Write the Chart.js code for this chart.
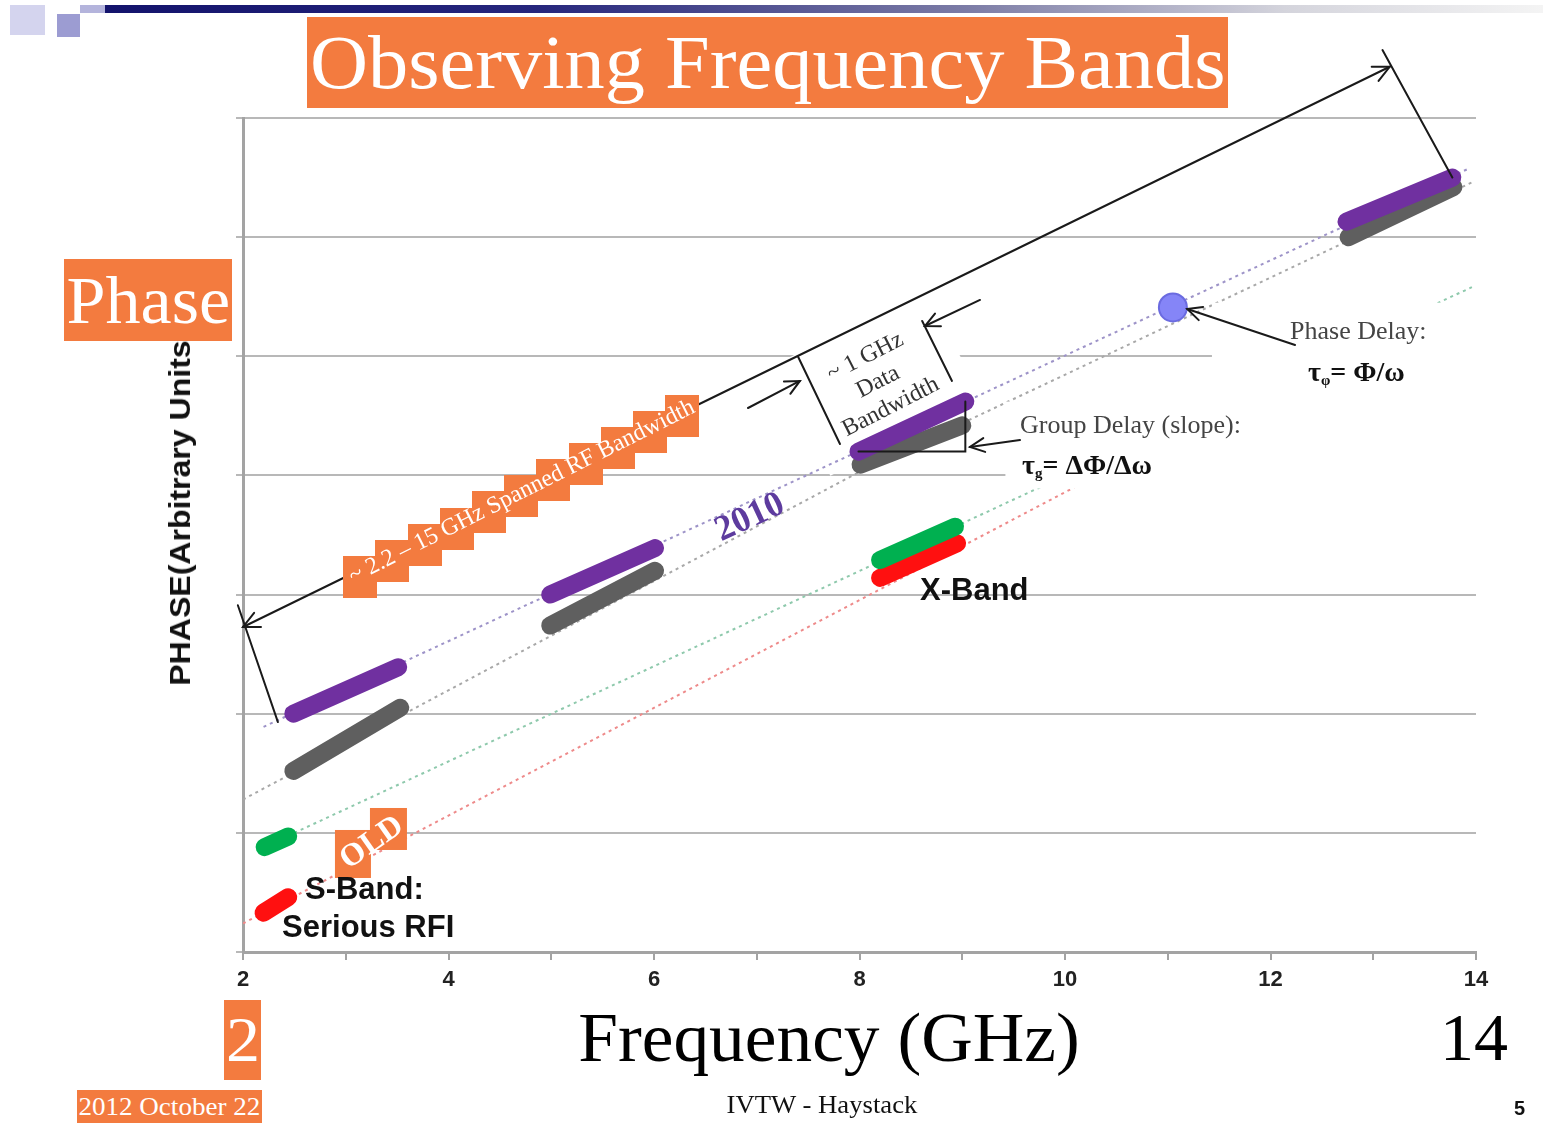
<!DOCTYPE html>
<html>
<head>
<meta charset="utf-8">
<script src="https://cdn.jsdelivr.net/npm/chart.js@4.4.1/dist/chart.umd.min.js"></script>
<style>
body { margin: 0; background: #fff; }
#slide { position: relative; width: 1543px; height: 1127px; overflow: hidden; background: #fff; font-family: 'Liberation Serif', serif; }
#chart { position: absolute; left: 0; top: 0; }
.box { position: absolute; background: #f37b3f; color: #fff; display: flex; align-items: center; justify-content: center; white-space: nowrap; overflow: hidden; }
.txt { position: absolute; white-space: nowrap; line-height: 1; }
.fit { display: inline-block; transform-origin: center center; }
</style>
</head>
<body>
<div id="slide">
  <canvas id="chart" width="1543" height="1127"></canvas>

  <!-- template decoration -->
  <div style="position:absolute;left:10px;top:5px;width:35px;height:30px;background:#d4d4ee"></div>
  <div style="position:absolute;left:57px;top:14px;width:23px;height:23px;background:#9c9cd2"></div>
  <div style="position:absolute;left:80px;top:5px;width:25px;height:8px;background:#b4b4dc"></div>
  <div style="position:absolute;left:105px;top:5px;width:1438px;height:8px;background:linear-gradient(to right,#13136c 0%,#26267c 30%,#7c7ca6 60%,#d4d4dc 82%,#f4f4f4 100%)"></div>

  <div class="box" style="left:307px;top:17px;width:921px;height:91px;font-size:76px"><span class="fit" data-w="915">Observing Frequency Bands</span></div>
  <div class="box" style="left:64px;top:259px;width:168px;height:82px;font-size:68px"><span class="fit" data-w="164">Phase</span></div>

  <div class="txt" style="left:180px;top:513px;font:bold 30px 'Liberation Sans',sans-serif;color:#111;transform:translate(-50%,-50%) rotate(-90deg)"><span class="fit" data-w="345">PHASE(Arbitrary Units</span></div>

  <div class="txt" style="left:829px;top:1003px;font-size:70px;color:#000;transform:translateX(-50%)"><span class="fit" data-w="502">Frequency (GHz)</span></div>
  <div class="box" style="left:224px;top:1000px;width:37px;height:80px;font-size:64px"><span class="fit" data-w="34">2</span></div>
  <div class="txt" style="left:1440px;top:1003px;font-size:68px;color:#000">14</div>

  <div class="box" style="left:77px;top:1090px;width:185px;height:33px;font-size:26px"><span class="fit" data-w="182">2012 October 22</span></div>
  <div class="txt" style="left:822px;top:1092px;font-size:26px;color:#111;transform:translateX(-50%)"><span class="fit" data-w="191">IVTW - Haystack</span></div>
  <div class="txt" style="left:1514px;top:1097px;font:bold 20px 'Liberation Sans',sans-serif;color:#111">5</div>
</div>

<script>
// Phase vs frequency (x in GHz, y in arbitrary phase units)
const xTicks = [2, 4, 6, 8, 10, 12, 14];

// 2010 system bands (purple) and their grey companions
const purpleBandX = [[2.49, 3.51], [4.99, 6.01], [7.99, 9.03], [12.74, 13.77]];
const purpleBandY = [[2.0, 2.39], [3.0, 3.39], [4.2, 4.62], [6.13, 6.5]];
const grayBandX = [[2.49, 3.53], [4.99, 6.01], [8.01, 9.0], [12.76, 13.78]];
const grayBandY = [[1.52, 2.05], [2.74, 3.2], [4.09, 4.42], [6.0, 6.42]];

// old S/X system
const greenBandX = [[2.21, 2.44], [8.2, 8.93]];
const greenBandY = [[0.88, 0.97], [3.29, 3.57]];
const redBandX = [[2.2, 2.44], [8.2, 8.95]];
const redBandY = [[0.33, 0.46], [3.14, 3.43]];

// dotted phase lines
const purpleTrendX = [2.2, 13.94];
const purpleTrendY = [1.89, 6.58];
const grayTrendX = [2.0, 8.0, 13.96];
const grayTrendY = [1.28, 4.03, 6.46];
const greenTrendX = [2.5, 13.96];
const greenTrendY = [1.0, 5.58];
const redTrendX = [2.0, 10.18];
const redTrendY = [0.24, 3.94];

// phase delay marker
const phasePointX = [11.05];
const phasePointY = [5.41];

const ORANGE = '#f37b3f';

function pairs(xs, ys) {
    return xs.map((v, i) => ({ x: v, y: ys[i] }));
}

function bandSets(xs, ys, color) {
    return xs.map((x, i) => ({
        data: pairs(x, ys[i]),
        borderColor: color,
        borderWidth: 18,
        borderCapStyle: 'round',
        pointRadius: 0,
        fill: false
    }));
}

function trendSet(xs, ys, color) {
    return {
        data: pairs(xs, ys),
        borderColor: color,
        borderWidth: 2,
        borderDash: [3, 4],
        pointRadius: 0,
        fill: false
    };
}

// small helpers for the annotation layer
function arrowHead(ctx, x1, y1, x2, y2, len) {
    const a = Math.atan2(y2 - y1, x2 - x1);
    ctx.beginPath();
    ctx.moveTo(x2 - len * Math.cos(a - 0.45), y2 - len * Math.sin(a - 0.45));
    ctx.lineTo(x2, y2);
    ctx.lineTo(x2 - len * Math.cos(a + 0.45), y2 - len * Math.sin(a + 0.45));
    ctx.stroke();
}

function line(ctx, p, q) {
    ctx.beginPath();
    ctx.moveTo(p[0], p[1]);
    ctx.lineTo(q[0], q[1]);
    ctx.stroke();
}

function tauText(ctx, x, y, sub, rest) {
    ctx.font = 'bold 28px "Liberation Serif"';
    ctx.fillText('τ', x, y);
    let w = ctx.measureText('τ').width;
    ctx.font = 'bold 15px "Liberation Serif"';
    ctx.fillText(sub, x + w, y + 7);
    w += ctx.measureText(sub).width;
    ctx.font = 'bold 28px "Liberation Serif"';
    ctx.fillText(rest, x + w, y);
}

// text on a slant with orange squares stepping along behind it
function stairText(ctx, text, cx, cy, deg, font, step, boxW, boxH) {
    const a = deg * Math.PI / 180;
    ctx.font = font;
    const total = ctx.measureText(text).width;
    ctx.fillStyle = ORANGE;
    for (let s = -total / 2 + boxW / 2 - 6; s <= total / 2 - boxW / 2 + 10; s += step) {
        const px = cx + s * Math.cos(a);
        const py = cy + s * Math.sin(a) + 4;
        ctx.fillRect(Math.round(px - boxW / 2), Math.round(py - boxH / 2), boxW, boxH);
    }
    ctx.save();
    ctx.translate(cx, cy);
    ctx.rotate(a);
    ctx.fillStyle = '#fff';
    ctx.textAlign = 'center';
    ctx.textBaseline = 'middle';
    ctx.fillText(text, 0, 0);
    ctx.restore();
}

function rotatedText(ctx, lines, cx, cy, deg, font, color, gap) {
    ctx.save();
    ctx.translate(cx, cy);
    ctx.rotate(deg * Math.PI / 180);
    ctx.font = font;
    ctx.fillStyle = color;
    ctx.textAlign = 'center';
    ctx.textBaseline = 'middle';
    lines.forEach((t, i) => ctx.fillText(t, 0, (i - (lines.length - 1) / 2) * gap));
    ctx.restore();
}

const slideNotes = {
    id: 'slideNotes',
    beforeDatasetsDraw(chart) {
        const { ctx, scales: { x, y } } = chart;
        const c = [x.getPixelForValue(8.18), y.getPixelForValue(4.784)];
        // white label patch breaks the grid line behind "~1 GHz"
        ctx.save();
        ctx.translate(c[0], c[1]);
        ctx.rotate(-27 * Math.PI / 180);
        ctx.fillStyle = '#fff';
        ctx.fillRect(-85, -62, 170, 124);
        ctx.restore();
    },
    afterDatasetsDraw(chart) {
        const { ctx, scales: { x, y } } = chart;
        const P = (vx, vy) => [x.getPixelForValue(vx), y.getPixelForValue(vy)];
        ctx.save();

        // white text boxes hide grid and dotted lines
        ctx.fillStyle = '#fff';
        let a = P(9.42, 4.62), b = P(11.85, 3.89);
        ctx.fillRect(a[0], a[1], b[0] - a[0], b[1] - a[1]);
        a = P(11.43, 5.45); b = P(14.35, 3.66);
        ctx.fillRect(a[0], a[1], b[0] - a[0], b[1] - a[1]);

        ctx.strokeStyle = '#1a1a1a';
        ctx.lineWidth = 2;
        ctx.lineCap = 'round';

        // spanned RF bandwidth arrow
        const s1 = P(2.0, 2.728), s2 = P(13.16, 7.43);
        line(ctx, s1, s2);
        arrowHead(ctx, s2[0], s2[1], s1[0], s1[1], 18);
        arrowHead(ctx, s1[0], s1[1], s2[0], s2[1], 18);
        line(ctx, P(1.95, 2.91), P(2.34, 1.93));
        line(ctx, P(13.09, 7.57), P(13.77, 6.5));

        // ~1 GHz data bandwidth bracket
        line(ctx, P(7.40, 5.0), P(7.81, 4.264));
        line(ctx, P(8.61, 5.296), P(8.9, 4.793));
        let p = P(6.915, 4.566), q = P(7.42, 4.793);
        line(ctx, p, q); arrowHead(ctx, p[0], p[1], q[0], q[1], 16);
        p = P(9.173, 5.473); q = P(8.637, 5.254);
        line(ctx, p, q); arrowHead(ctx, p[0], p[1], q[0], q[1], 16);

        // group delay slope triangle
        const tx = purpleBandX[2], ty = purpleBandY[2];
        ctx.beginPath();
        const t0 = P(tx[0], ty[0]), t1 = P(tx[1], ty[0]), t2 = P(tx[1], ty[1]);
        ctx.moveTo(t0[0], t0[1]); ctx.lineTo(t1[0], t1[1]); ctx.lineTo(t2[0], t2[1]);
        ctx.stroke();
        p = P(9.562, 4.297); q = P(9.075, 4.239);
        line(ctx, p, q); arrowHead(ctx, p[0], p[1], q[0], q[1], 16);

        // phase delay pointer
        p = P(12.239, 5.095); q = P(11.19, 5.397);
        line(ctx, p, q); arrowHead(ctx, p[0], p[1], q[0], q[1], 16);

        // orange slanted labels
        const r = P(4.715, 3.861);
        stairText(ctx, '~ 2.2 – 15 GHz Spanned RF Bandwidth', r[0], r[1], -26.6, '24px "Liberation Serif"', 36, 34, 42);
        const o = P(3.255, 0.915);
        ctx.fillStyle = ORANGE;
        ctx.fillRect(o[0] - 37, o[1] - 13, 36, 48);
        ctx.fillRect(o[0] - 2, o[1] - 35, 37, 42);
        rotatedText(ctx, ['OLD'], o[0], o[1], -35, 'bold 32px "Liberation Serif"', '#fff', 0);

        rotatedText(ctx, ['2010'], ...P(6.934, 3.643), -25, 'bold 36px "Liberation Serif"', '#5d3b9e', 0);
        rotatedText(ctx, ['~ 1 GHz', 'Data', 'Bandwidth'], ...P(8.18, 4.784), -27, '24px "Liberation Serif"', '#333', 28);

        // plain labels
        ctx.textAlign = 'left';
        ctx.textBaseline = 'middle';
        ctx.fillStyle = '#111';
        ctx.font = 'bold 31px "Liberation Sans"';
        ctx.fillText('S-Band:', ...P(2.603, 0.52));
        ctx.fillText('Serious RFI', ...P(2.38, 0.201));
        ctx.fillText('X-Band', ...P(8.589, 3.03));

        ctx.fillStyle = '#444';
        ctx.font = '26px "Liberation Serif"';
        ctx.fillText('Group Delay (slope):', ...P(9.562, 4.415));
        ctx.fillText('Phase Delay:', ...P(12.19, 5.204));
        ctx.fillStyle = '#111';
        tauText(ctx, ...P(9.582, 4.071), 'g', '= ΔΦ/Δω');
        tauText(ctx, ...P(12.365, 4.851), 'φ', '= Φ/ω');

        ctx.restore();
    }
};

const datasets = [
    ...bandSets(purpleBandX, purpleBandY, '#7030a0'),
    ...bandSets(grayBandX, grayBandY, '#5f5f5f'),
    ...bandSets(greenBandX, greenBandY, '#00b050'),
    ...bandSets(redBandX, redBandY, '#ff1010'),
    {
        data: pairs(phasePointX, phasePointY),
        showLine: false,
        pointRadius: 14,
        pointBackgroundColor: '#8585f7',
        pointBorderColor: '#6b6be0',
        pointBorderWidth: 2
    },
    trendSet(purpleTrendX, purpleTrendY, '#9d93c8'),
    trendSet(grayTrendX, grayTrendY, '#a8a8a8'),
    trendSet(greenTrendX, greenTrendY, '#8ec9ac'),
    trendSet(redTrendX, redTrendY, '#ee8a8a')
];

new Chart(document.getElementById('chart'), {
    type: 'line',
    data: { datasets: datasets },
    options: {
        responsive: false,
        animation: false,
        layout: { padding: { left: 235, right: 67, top: 118, bottom: 125 } },
        plugins: { legend: { display: false }, tooltip: { enabled: false } },
        elements: { line: { tension: 0 } },
        scales: {
            x: {
                type: 'linear',
                min: 2,
                max: 14,
                border: { color: '#a3a3a3', width: 3 },
                grid: { drawOnChartArea: false, drawTicks: true, tickLength: 8, color: '#a3a3a3', lineWidth: 2 },
                ticks: {
                    stepSize: 1,
                    autoSkip: false,
                    maxRotation: 0,
                    padding: 7,
                    color: '#222',
                    font: { family: 'Liberation Sans', weight: 'bold', size: 22 },
                    callback: v => xTicks.includes(v) ? v : ''
                },
                afterFit: s => { s.height = 50; }
            },
            y: {
                min: 0,
                max: 7,
                border: { color: '#a3a3a3', width: 3 },
                grid: { color: '#b8b8b8', lineWidth: 2, tickLength: 7 },
                ticks: { stepSize: 1, display: false },
                afterFit: s => { s.width = 8; }
            }
        }
    },
    plugins: [slideNotes]
});

// squeeze or stretch slide text to the widths seen on the slide
// (offsetWidth ignores transforms, so the rotated axis title measures right)
document.querySelectorAll('.fit').forEach(el => {
    const w = el.offsetWidth;
    el.style.transform = 'scaleX(' + (Number(el.dataset.w) / w).toFixed(3) + ')';
});
</script>
</body>
</html>
